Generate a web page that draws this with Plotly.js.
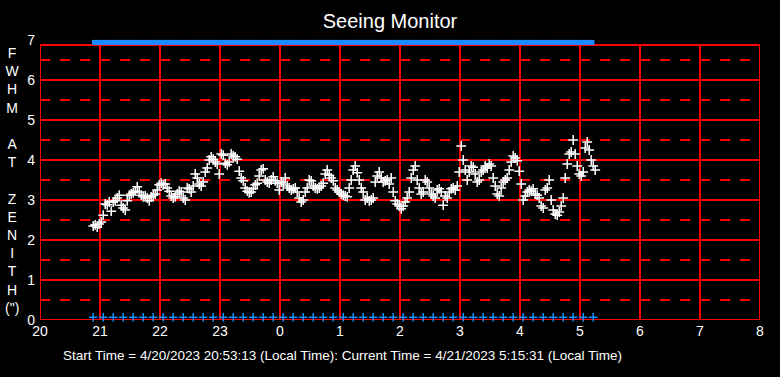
<!DOCTYPE html>
<html><head><meta charset="utf-8">
<script src="https://cdn.plot.ly/plotly-3.0.1.min.js"></script>
<style>html,body{margin:0;padding:0;background:#000;}</style>
</head><body><div id="chart" style="width:780px;height:377px;"></div>
<script>
// Axis labels
const xTickLabels = ['20','21','22','23','0','1','2','3','4','5','6','7','8'];
const yTickLabels = ['0','1','2','3','4','5','6','7'];
const yAxisLetters = ['F','W','H','M','','A','T','','Z','E','N','I','T','H','(")'];

// Session times (hours, local)
const startHour = 20 + 53/60 + 13/3600;      // 20:53:13
const endHour = 24 + 5 + 15/60 + 31/3600;    // 5:15:31 next day
const sampleStepMin = 2;
const statusStepMin = 10;

// FWHM at zenith (arcsec), one sample per 2 minutes from start time
const fwhm = [
 2.35,2.38,2.32,2.40,2.45,2.62,2.90,2.88,2.95,2.72,
 2.95,2.98,3.05,3.12,2.87,2.80,2.75,2.98,3.12,3.15,
 3.18,3.22,3.33,3.20,3.12,3.08,3.10,3.05,2.98,3.08,
 3.12,3.15,3.25,3.38,3.42,3.38,3.40,3.30,3.22,3.10,
 3.05,3.08,3.15,3.22,3.20,3.05,3.00,3.30,3.28,3.20,
 3.35,3.65,3.55,3.40,3.35,3.45,3.70,3.80,4.00,4.08,
 4.02,3.95,3.90,3.65,4.15,4.12,3.92,3.88,3.95,4.15,
 4.10,4.08,4.02,3.72,3.55,3.48,3.30,3.22,3.18,3.20,
 3.28,3.38,3.42,3.60,3.75,3.78,3.50,3.45,3.42,3.50,
 3.58,3.48,3.42,3.25,3.45,3.40,3.55,3.35,3.30,3.25,
 3.28,3.30,3.20,3.05,2.95,3.00,3.20,3.30,3.50,3.48,
 3.35,3.30,3.28,3.30,3.35,3.42,3.65,3.75,3.62,3.55,
 3.48,3.30,3.25,3.20,3.15,3.12,3.10,3.08,3.30,3.50,
 3.75,3.85,3.68,3.50,3.30,3.20,3.00,3.05,2.98,3.00,
 3.05,3.45,3.60,3.70,3.55,3.45,3.48,3.50,3.40,3.55,
 3.20,2.98,2.90,2.85,2.78,2.85,2.95,3.05,3.20,3.55,
 3.75,3.85,3.50,3.30,3.15,3.20,3.50,3.45,3.30,3.15,
 3.10,3.05,3.25,3.28,3.20,2.87,3.10,3.05,3.20,3.28,
 3.30,3.25,3.35,3.70,4.35,4.00,3.75,3.50,3.70,3.85,
 3.82,3.65,3.45,3.50,3.70,3.75,3.85,3.80,3.90,3.85,
 3.55,3.35,3.15,3.10,3.30,3.45,3.50,3.55,3.75,3.95,
 4.10,4.05,3.98,3.72,3.40,3.00,3.10,3.20,3.25,3.22,
 3.28,3.15,3.12,3.05,2.85,2.80,3.25,3.30,3.50,3.00,
 2.75,2.65,2.62,2.70,2.85,3.05,3.55,3.90,4.15,4.20,
 4.50,4.15,3.85,3.65,3.60,3.70,4.30,4.45,4.25,4.00,
 3.85,3.75
];

const titleText = 'Seeing Monitor';
const footerText = 'Start Time = 4/20/2023 20:53:13 (Local Time): Current Time = 4/21/2023 5:15:31 (Local Time)';

// ---- build ----
const axisStart = 20;
const toAxis = h => h - axisStart;
const sampleX = fwhm.map((_, i) => toAxis(startHour + i * sampleStepMin / 60));
const statusX = [];
for (let h = startHour; h <= endHour + 1e-9; h += statusStepMin / 60) statusX.push(toAxis(h));
const statusMidX = [];
for (let h = startHour + statusStepMin / 120; h <= endHour - statusStepMin / 240; h += statusStepMin / 60) statusMidX.push(toAxis(h));

const RED = '#ff0000', BLUE = '#1a8cff';
const frameTop = 6.875;
const GW = 2;
const shapes = [];
for (let v = 0.5; v < 7; v += 1) shapes.push({type:'line', xref:'x', yref:'y', x0:0, x1:12, y0:v, y1:v, layer:'below', line:{color:RED, width:GW, dash:'10px,10px'}});
for (let v = 1; v <= 6; v++) shapes.push({type:'line', xref:'x', yref:'y', x0:0, x1:12, y0:v, y1:v, layer:'below', line:{color:RED, width:GW}});
for (let x = 1; x <= 11; x++) shapes.push({type:'line', xref:'x', yref:'y', x0:x, x1:x, y0:0, y1:frameTop, layer:'below', line:{color:RED, width:GW}});
shapes.push({type:'rect', xref:'x', yref:'y', x0:0, x1:12, y0:0, y1:frameTop, layer:'below', line:{color:RED, width:GW}});

const traces = [
  {x: sampleX, y: fwhm, type:'scatter', mode:'markers', hoverinfo:'skip',
   marker:{symbol:'cross-thin', size:7, color:'#ffffff', line:{color:'#ffffff', width:1.5}}},
  {x: statusMidX, y: statusMidX.map(() => 6.94), type:'scatter', mode:'markers', cliponaxis:false, hoverinfo:'skip',
   marker:{symbol:'line-ew', size:9, color:BLUE, line:{color:BLUE, width:5}}},
  {x: statusX, y: statusX.map(() => 0.07), type:'scatter', mode:'markers', cliponaxis:false, hoverinfo:'skip',
   marker:{symbol:'cross-thin', size:6, color:BLUE, line:{color:BLUE, width:1.5}}}
];

const FONT = 'Arial, "Liberation Sans", sans-serif';
const layout = {
  width:780, height:377,
  paper_bgcolor:'#000', plot_bgcolor:'#000',
  margin:{l:40, r:20, t:40, b:57},
  showlegend:false,
  font:{family:FONT, color:'#ffffff', size:14},
  title:{text:titleText, x:0.5, xanchor:'center', y:1-21/377, yanchor:'middle', font:{family:FONT, size:20, color:'#ffffff'}},
  xaxis:{range:[0,12], tickvals:xTickLabels.map((_, i) => i), ticktext:xTickLabels, showgrid:false, zeroline:false, showline:false, ticks:'', ticklabelstandoff:1, tickfont:{size:14, color:'#ffffff'}, fixedrange:true},
  yaxis:{range:[0,7], tickvals:yTickLabels.map((_, i) => i), ticktext:yTickLabels, showgrid:false, zeroline:false, showline:false, ticks:'', ticklabelstandoff:4, tickfont:{size:14, color:'#ffffff'}, fixedrange:true},
  shapes: shapes,
  annotations:[
    {text: yAxisLetters.join('<br>'), xref:'paper', yref:'paper', x:(12-40)/720, y:(320-180)/280, xanchor:'center', yanchor:'middle', showarrow:false, align:'center', font:{family:FONT, size:14, color:'#ffffff'}},
    {text: footerText, xref:'paper', yref:'paper', x:(342-40)/720, y:(320-355)/280, xanchor:'center', yanchor:'middle', showarrow:false, font:{family:FONT, size:13.5, color:'#ffffff'}}
  ]
};
Plotly.newPlot('chart', traces, layout, {displayModeBar:false, staticPlot:true});
</script></body></html>
